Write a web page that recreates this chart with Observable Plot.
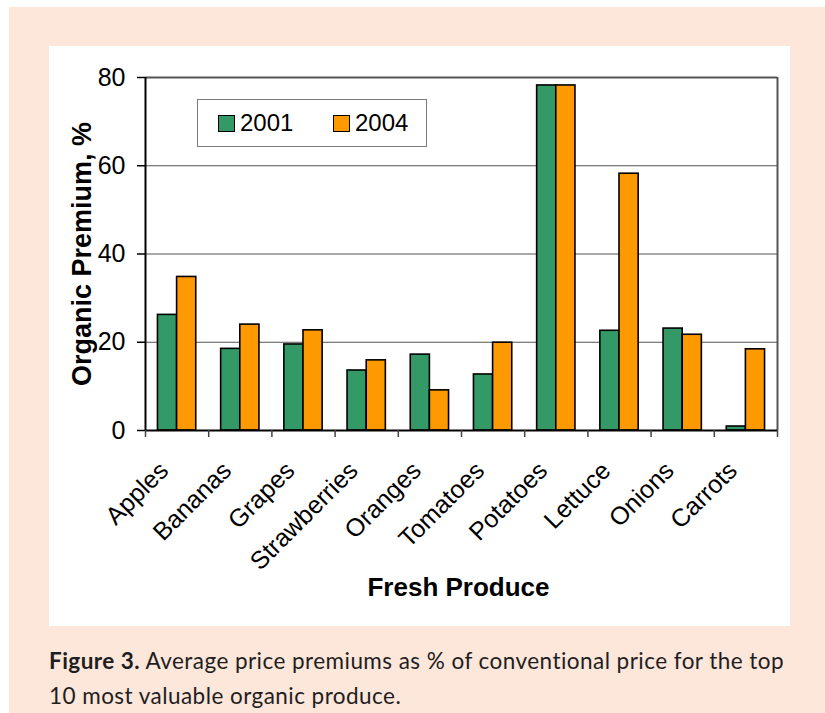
<!DOCTYPE html>
<html>
<head>
<meta charset="utf-8">
<script src="https://cdn.jsdelivr.net/npm/d3@7"></script>
<script src="https://cdn.jsdelivr.net/npm/@observablehq/plot@0.6"></script>
<style>
  html, body { margin: 0; padding: 0; background: #ffffff; }
  #sheet { position: absolute; left: 9px; top: 7px; width: 816px; height: 706px; background: #fde6da; }
  #panel { position: absolute; left: 49px; top: 46px; width: 741px; height: 580px; background: #ffffff; }
  #legend {
    position: absolute; left: 148px; top: 53px; width: 230px; height: 48px;
    border: 1.5px solid #7a7a7a; background: #fff; box-sizing: border-box;
    font-family: "Liberation Sans", Arial, sans-serif; font-size: 24px; color: #000;
  }
  .item { position: absolute; top: 9px; display: flex; align-items: center; }
  .sw { width: 15px; height: 15px; border: 1.5px solid #000; margin-right: 5px; }
  #caption {
    position: absolute; left: 49px; top: 643px; width: 776px;
    font-family: Lato, "Open Sans", sans-serif; font-size: 22.5px; letter-spacing: 0.45px;
    line-height: 35px; color: #1e1e1e; white-space: nowrap;
  }
  #caption b { font-weight: 700; }
</style>
</head>
<body>
<div id="sheet"></div>
<div id="panel"><div id="legend"></div></div>
<div id="caption"><b>Figure 3.</b> Average price premiums as % of conventional price for the top<br>10 most valuable organic produce.</div>
<script>
// Average organic price premium (% over conventional), by produce item
const categories = ["Apples", "Bananas", "Grapes", "Strawberries", "Oranges", "Tomatoes", "Potatoes", "Lettuce", "Onions", "Carrots"];
const years = ["2001", "2004"];
const premium2001 = [26.2, 18.5, 19.5, 13.6, 17.2, 12.7, 78.2, 22.6, 23.1, 0.9];
const premium2004 = [34.8, 24.0, 22.7, 15.9, 9.1, 19.9, 78.2, 58.2, 21.7, 18.4];
const yTicks = [0, 20, 40, 60, 80];
const colors = ["#339966", "#ff9900"];

// long table: one row per item and year
const series = [premium2001, premium2004];
const rows = [];
categories.forEach((c, i) => years.forEach((yr, j) => rows.push({i, j, category: c, year: yr, value: series[j][i]})));

// each category occupies one unit of x; the two bars share the middle of it
const gap = 0.197;
const barW = (1 - 2 * gap) / years.length;

const chart = Plot.plot({
  width: 741,
  height: 580,
  marginLeft: 96,
  marginRight: 13,
  marginTop: 31,
  marginBottom: 196,
  style: {fontFamily: "'Liberation Sans', Arial, sans-serif", background: "white", color: "#000", overflow: "visible"},
  x: {domain: [0, categories.length], axis: null},
  y: {domain: [0, 80], axis: null},
  marks: [
    Plot.gridY(yTicks.filter(t => t > 0 && t < 80), {stroke: "#555", strokeOpacity: 1, strokeWidth: 1.2}),
    Plot.rectY(rows, {
      x1: d => d.i + gap + d.j * barW,
      x2: d => d.i + gap + (d.j + 1) * barW,
      y: "value",
      fill: d => colors[d.j],
      stroke: "#000",
      strokeWidth: 1.6
    }),
    Plot.ruleY([80], {stroke: "#555", strokeWidth: 2}),
    Plot.ruleX([categories.length], {stroke: "#555", strokeWidth: 2}),
    Plot.ruleX([0], {stroke: "#000", strokeWidth: 2}),
    Plot.ruleY([0], {stroke: "#000", strokeWidth: 2}),
    Plot.axisY({ticks: yTicks, tickSize: 8, tickPadding: 12, fontSize: 25, label: null, strokeWidth: 1.5}),
    Plot.axisX({ticks: d3.range(categories.length + 1), tickSize: 7, tickFormat: () => "", label: null, stroke: "#444", strokeWidth: 1.5}),
    Plot.axisX({
      ticks: d3.range(categories.length).map(i => i + 0.5),
      tickSize: 0,
      tickPadding: 36,
      dx: -13,
      tickRotate: -45,
      tickFormat: t => categories[Math.floor(t)],
      fontSize: 25,
      label: null
    }),
    Plot.text(["Organic Premium, %"], {text: d => d, frameAnchor: "left", textAnchor: "middle", rotate: -90, dx: -63, fontSize: 27, fontWeight: "bold"}),
    Plot.text(["Fresh Produce"], {text: d => d, frameAnchor: "bottom", lineAnchor: "bottom", dx: -3, dy: 165, fontSize: 26, fontWeight: "bold"})
  ]
});
document.getElementById("panel").prepend(chart);

// legend keyed to the same series colours
const legend = document.getElementById("legend");
const itemLeft = [20, 135];
years.forEach((yr, j) => {
  const item = document.createElement("div");
  item.className = "item";
  item.style.left = itemLeft[j] + "px";
  const sw = document.createElement("span");
  sw.className = "sw";
  sw.style.background = colors[j];
  const label = document.createElement("span");
  label.textContent = yr;
  item.append(sw, label);
  legend.append(item);
});
</script>
</body>
</html>
